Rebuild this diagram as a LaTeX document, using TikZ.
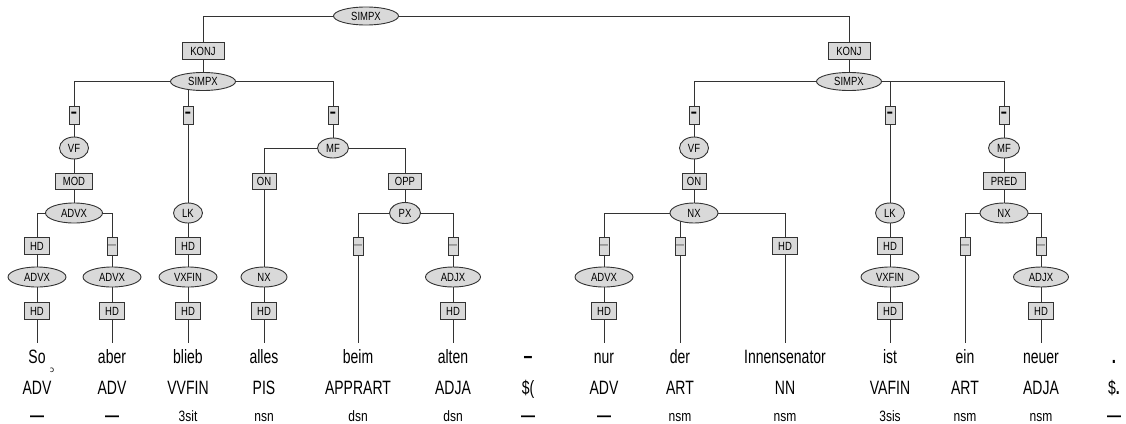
\documentclass[tikz,border=0pt]{standalone}
\usepackage{graphicx}
\usepackage{fontspec}
\setmainfont{Liberation Sans}
\newfontfamily\ipafont{DejaVu Sans}
\usetikzlibrary{shapes.geometric}
\pgfdeclarelayer{bg}
\pgfsetlayers{bg,main}
\newcommand\lbl[1]{\scalebox{1}[1.25]{\fontsize{9.5}{10}\selectfont #1}}
\newcommand\wrd[1]{\scalebox{1}[1.38]{\fontsize{14}{16}\selectfont #1}}
\newcommand\mrf[1]{\scalebox{1}[1.25]{\fontsize{12}{14}\selectfont #1}}
\newcommand\dthick{\scalebox{1}[2]{\fontsize{10}{11}\selectfont\textbf{–}}}
\newcommand\dthin{\fontsize{8}{9}\selectfont —}
\tikzset{
  ed/.style={draw=black!80, line width=0.9pt},
  ell/.style={ellipse, draw=black!80, fill=black!15, line width=0.9pt, inner sep=0pt, minimum height=20pt, minimum width=#1},
  bx/.style={rectangle, draw=black!80, fill=black!15, line width=0.9pt, inner sep=0pt, minimum height=17pt, minimum width=#1},
  dbox/.style={bx=10pt, minimum height=18pt},
  wordnode/.style={anchor=base, inner xsep=0pt, inner ysep=6pt, text height=14pt},
  postag/.style={anchor=base, inner sep=0pt},
  morphtag/.style={anchor=base, inner sep=0pt}
}
\begin{document}
\begin{tikzpicture}[x=1pt, y=-1pt]
\useasboundingbox (0,0) rectangle (1126,423);
% top level
\node[ell=65pt, minimum height=18pt] (top) at (366,16) {\lbl{SIMPX}};
\node[bx=42pt] (k1) at (203,51) {\lbl{KONJ}};
\node[bx=42pt] (k2) at (849,51) {\lbl{KONJ}};
\node[ell=65pt, minimum height=18pt] (s1) at (203,81.5) {\lbl{SIMPX}};
\node[ell=65pt, minimum height=18pt] (s2) at (849,81.5) {\lbl{SIMPX}};
% left clause
\node[dbox] (d1) at (74,115) {\dthick};
\node[ell=29pt, minimum height=22pt] (vf1) at (74,148) {\lbl{VF}};
\node[bx=37pt, minimum height=16pt] (mod) at (74,181) {\lbl{MOD}};
\node[ell=57pt] (advx1) at (74,213) {\lbl{ADVX}};
\node[bx=25pt] (hd1) at (37,246) {\lbl{HD}};
\node[ell=58pt] (advx2) at (37,277) {\lbl{ADVX}};
\node[bx=25pt] (hd2) at (37,311) {\lbl{HD}};
\node[dbox] (d2) at (112,246) {\dthin};
\node[ell=58pt] (advx3) at (112,277) {\lbl{ADVX}};
\node[bx=25pt] (hd3) at (112,311) {\lbl{HD}};
\node[dbox] (d3) at (188,115) {\dthick};
\node[ell=29pt] (lk1) at (188,213) {\lbl{LK}};
\node[bx=25pt] (hd4) at (188,246) {\lbl{HD}};
\node[ell=58pt] (vx1) at (188,277) {\lbl{VXFIN}};
\node[bx=25pt] (hd5) at (188,311) {\lbl{HD}};
\node[dbox] (d4) at (333,115) {\dthick};
\node[ell=31pt] (mf1) at (333,148) {\lbl{MF}};
\node[bx=24pt, minimum height=16pt] (on1) at (264,181) {\lbl{ON}};
\node[ell=46pt] (nx1) at (264,277) {\lbl{NX}};
\node[bx=25pt] (hd6) at (264,311) {\lbl{HD}};
\node[bx=33pt, minimum height=16pt] (opp) at (405,181) {\lbl{OPP}};
\node[ell=31pt, minimum height=21pt] (px) at (405,213) {\lbl{PX}};
\node[dbox] (d5) at (358,246) {\dthin};
\node[dbox] (d6) at (453,246) {\dthin};
\node[ell=55pt] (adjx1) at (453,277) {\lbl{ADJX}};
\node[bx=25pt] (hd7) at (453,311) {\lbl{HD}};
% right clause
\node[dbox] (d7) at (694,115) {\dthick};
\node[ell=29pt, minimum height=22pt] (vf2) at (694,148) {\lbl{VF}};
\node[bx=24pt, minimum height=16pt] (on2) at (694,181) {\lbl{ON}};
\node[ell=48pt] (nx2) at (694,213) {\lbl{NX}};
\node[dbox] (d8) at (604,246) {\dthin};
\node[ell=58pt] (advx4) at (604,277) {\lbl{ADVX}};
\node[bx=25pt] (hd8) at (604,311) {\lbl{HD}};
\node[dbox] (d9) at (680,246) {\dthin};
\node[bx=25pt] (hd9) at (785,246) {\lbl{HD}};
\node[dbox] (d10) at (890,115) {\dthick};
\node[ell=29pt] (lk2) at (890,213) {\lbl{LK}};
\node[bx=25pt] (hd10) at (890,246) {\lbl{HD}};
\node[ell=58pt] (vx2) at (890,277) {\lbl{VXFIN}};
\node[bx=25pt] (hd11) at (890,311) {\lbl{HD}};
\node[dbox] (d11) at (1004,115) {\dthick};
\node[ell=31pt] (mf2) at (1004,148) {\lbl{MF}};
\node[bx=42pt] (pred) at (1004,181) {\lbl{PRED}};
\node[ell=48pt] (nx3) at (1004,213) {\lbl{NX}};
\node[dbox] (d12) at (965,246) {\dthin};
\node[dbox] (d13) at (1041,246) {\dthin};
\node[ell=55pt] (adjx2) at (1041,277) {\lbl{ADJX}};
\node[bx=25pt] (hd12) at (1041,311) {\lbl{HD}};
% words
\foreach \n/\x/\t in {w1/37/So, w2/112/aber, w3/188/blieb, w4/264/alles, w5/358/beim, w6/453/alten, w8/604/nur, w9/680/der, w10/785/Innensenator, w11/890/ist, w12/965/ein, w13/1041/neuer}
  \node[wordnode] (\n) at (\x,363) {\wrd{\t}};
\node[wordnode] (w7) at (528,363) {\wrd{\fontsize{16}{18}\selectfont\textbf{–}}};
\node[wordnode] (w14) at (1114,363) {\wrd{\fontsize{15}{18}\selectfont\textbf{.}}};
\node[inner sep=0pt] (mark) at (52,370) {\ipafont\fontsize{8}{9}\selectfont ɔ};
% POS tags
\foreach \n/\x/\t in {p1/37/ADV, p2/112/ADV, p3/188/VVFIN, p4/264/PIS, p5/358/APPRART, p6/453/ADJA, p7/528/\$(, p8/604/ADV, p9/680/ART, p10/785/NN, p11/890/VAFIN, p12/965/ART, p13/1041/ADJA}
  \node[postag] (\n) at (\x,394) {\wrd{\t}};
\node[postag] (p14) at (1114,394) {\wrd{\$\textbf{.}}};
% morphology
\foreach \n/\x/\t in {m3/188/3sit, m4/264/nsn, m5/358/dsn, m6/453/dsn, m9/680/nsm, m10/785/nsm, m11/890/3sis, m12/965/nsm, m13/1041/nsm}
  \node[morphtag] (\n) at (\x,421) {\mrf{\t}};
\foreach \n/\x in {m1/37, m2/112, m7/528, m8/604, m14/1114}
  \node[morphtag] (\n) at (\x,421) {\mrf{\fontsize{14}{15}\selectfont\textbf{—}}};
% connectors
\begin{pgfonlayer}{bg}
\foreach \p/\c in {top/k1, top/k2, k1/s1, k2/s2,
  s1/d1, d1/vf1, vf1/mod, mod/advx1, advx1/hd1, hd1/advx2, advx2/hd2,
  advx1/d2, d2/advx3, advx3/hd3,
  s1/d3, d3/lk1, lk1/hd4, hd4/vx1, vx1/hd5,
  s1/d4, d4/mf1, mf1/on1, on1/nx1, nx1/hd6, mf1/opp, opp/px, px/d5, px/d6, d6/adjx1, adjx1/hd7,
  s2/d7, d7/vf2, vf2/on2, on2/nx2, nx2/d8, d8/advx4, advx4/hd8, nx2/d9, nx2/hd9,
  s2/d10, d10/lk2, lk2/hd10, hd10/vx2, vx2/hd11,
  s2/d11, d11/mf2, mf2/pred, pred/nx3, nx3/d12, nx3/d13, d13/adjx2, adjx2/hd12}
  \draw[ed] (\p.center) -| (\c.center);
\foreach \p/\c in {hd2/w1, hd3/w2, hd5/w3, hd6/w4, d5/w5, hd7/w6, hd8/w8, d9/w9, hd9/w10, hd11/w11, d12/w12, hd12/w13}
  \draw[ed] (\p.center) -- (\c.north);
\end{pgfonlayer}
\end{tikzpicture}
\end{document}
